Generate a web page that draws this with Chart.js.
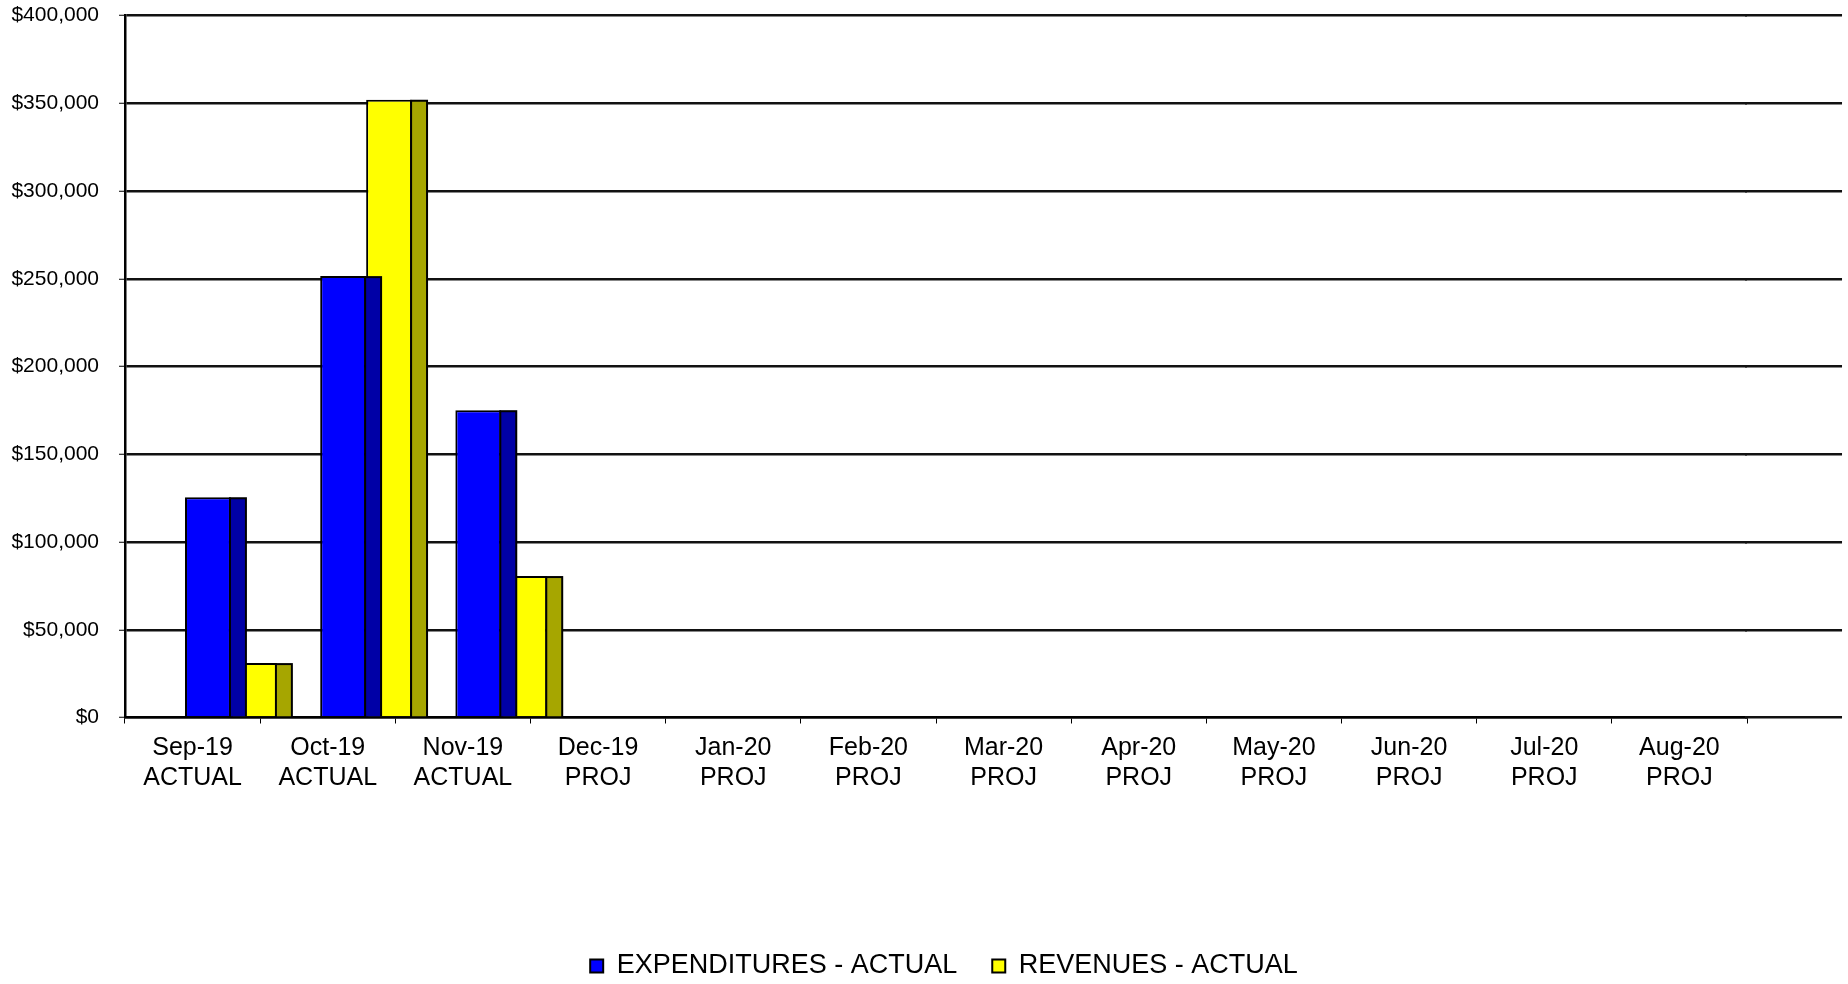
<!DOCTYPE html>
<html>
<head>
<meta charset="utf-8">
<script src="https://cdn.jsdelivr.net/npm/chart.js@4.4.1/dist/chart.umd.min.js"></script>
<style>
  html, body { margin: 0; padding: 0; background: #ffffff; overflow: hidden; }
  #wrap { width: 1848px; height: 984px; position: relative; }
  canvas { display: block; }
</style>
</head>
<body>
<div id="wrap"><canvas id="c" width="1848" height="984"></canvas></div>
<script>
// ---- data ----
const months = ['Sep-19','Oct-19','Nov-19','Dec-19','Jan-20','Feb-20','Mar-20','Apr-20','May-20','Jun-20','Jul-20','Aug-20'];
const periodTypes = ['ACTUAL','ACTUAL','ACTUAL','PROJ','PROJ','PROJ','PROJ','PROJ','PROJ','PROJ','PROJ','PROJ'];
const expendituresActual = [125500, 251500, 175100, null, null, null, null, null, null, null, null, null];
const revenuesActual = [31000, 352000, 80600, null, null, null, null, null, null, null, null, null];
const seriesNames = ['EXPENDITURES - ACTUAL', 'REVENUES - ACTUAL'];
const yMin = 0, yMax = 400000, yStep = 50000;

const categoryLabels = months.map((m, i) => [m, periodTypes[i]]);

Chart.defaults.font.family = "'Liberation Sans', Arial, Helvetica, sans-serif";
Chart.defaults.color = '#000000';

// 3D-look plugin: shift bars to the right and draw darker side faces; extend floor/gridlines
const pseudo3D = {
  id: 'pseudo3D',
  afterLayout(chart, args, opts) {
    if (chart.legend) {
      chart.legend.left += opts.legendNudge;
      chart.legend.right += opts.legendNudge;
    }
  },
  afterDatasetsUpdate(chart, args, opts) {
    const xs = chart.scales.x;
    const catW = xs.width / chart.data.labels.length;
    chart.data.datasets.forEach((ds, i) => {
      const meta = chart.getDatasetMeta(i);
      meta.data.forEach(el => { el.x += opts.shift * catW; });
    });
  },
  beforeDatasetsDraw(chart, args, opts) {
    const xs = chart.scales.x, ys = chart.scales.y;
    const catW = xs.width / chart.data.labels.length;
    const ext = opts.extend * catW;
    const ctx = chart.ctx;
    const w = opts.gridWidth;
    ctx.save();
    ctx.strokeStyle = opts.gridColor;
    ctx.lineWidth = w;
    ys.ticks.forEach(t => {
      const raw = ys.getPixelForValue(t.value);
      const y = Math.round(raw - w / 2) + w / 2;
      ctx.beginPath();
      ctx.moveTo(chart.chartArea.right - 2, y);
      ctx.lineTo(chart.chartArea.right + ext, y);
      ctx.stroke();
    });
    ctx.restore();
  },
  afterDatasetsDraw(chart, args, opts) {
    const xs = chart.scales.x;
    const catW = xs.width / chart.data.labels.length;
    const sw = opts.side * catW;
    const ctx = chart.ctx;
    ctx.save();
    chart.data.datasets.forEach((ds, i) => {
      const meta = chart.getDatasetMeta(i);
      meta.data.forEach((el, j) => {
        if (ds.data[j] === null || ds.data[j] === undefined) return;
        const right = el.x + el.width / 2;
        const top = Math.min(el.y, el.base), bot = Math.max(el.y, el.base);
        const bw = ds.borderWidth;
        ctx.fillStyle = ds.borderColor;
        ctx.fillRect(right - bw, top, sw + bw, bot - top);
        ctx.fillStyle = ds.sideColor;
        ctx.fillRect(right, top + bw, sw - bw, bot - top - bw);
      });
    });
    ctx.restore();
  }
};

new Chart(document.getElementById('c'), {
  type: 'bar',
  data: {
    labels: categoryLabels,
    datasets: [
      { label: seriesNames[0], data: expendituresActual, backgroundColor: '#0000FF', sideColor: '#0000A6',
        borderColor: '#000000', borderWidth: 2, borderSkipped: 'bottom' },
      { label: seriesNames[1], data: revenuesActual, backgroundColor: '#FFFF00', sideColor: '#A6A600',
        borderColor: '#000000', borderWidth: 2, borderSkipped: 'bottom' }
    ]
  },
  options: {
    responsive: false,
    animation: false,
    events: [],
    devicePixelRatio: 1,
    categoryPercentage: 0.68,
    barPercentage: 1.0,
    layout: { padding: { left: 0, top: 15.5, right: 0, bottom: 0 } },
    plugins: {
      tooltip: { enabled: false },
      pseudo3D: { shift: 0.284, side: 0.118, extend: 0.703, gridColor: '#111111', gridWidth: 2.5, legendNudge: 8 },
      legend: {
        display: true,
        position: 'bottom',
        fullSize: false,
        maxHeight: 66.5,
        labels: {
          font: { size: 27 },
          color: '#000000',
          boxWidth: 13,
          boxHeight: 13,
          padding: 35
        }
      }
    },
    scales: {
      x: {
        type: 'category',
        offset: true,
        grid: { display: true, drawOnChartArea: false, drawTicks: true, offset: true,
                tickLength: 6, tickWidth: 1, tickColor: '#000000' },
        border: { display: true, color: '#000000', width: 2.5 },
        ticks: { font: { size: 25, lineHeight: 1.2 }, color: '#000000', padding: 10, maxRotation: 0, autoSkip: false },
        afterFit(scale) { scale.height = 200; }
      },
      y: {
        type: 'linear',
        position: 'left',
        min: yMin, max: yMax,
        grid: { display: true, color: '#111111', lineWidth: 2.5, drawTicks: true, tickLength: 6, tickWidth: 1, tickColor: '#000000' },
        border: { display: true, color: '#000000', width: 2.5 },
        ticks: {
          stepSize: yStep,
          font: { size: 21 },
          color: '#000000',
          padding: 20,
          callback: (v) => '$' + Number(v).toLocaleString('en-US')
        },
        afterFit(scale) { scale.width = 125; scale.paddingTop = 12; scale.paddingBottom = 12; }
      },
      yRight: {
        type: 'linear',
        position: 'right',
        display: true,
        grid: { display: false, drawTicks: false },
        border: { display: false },
        ticks: { display: false },
        afterFit(scale) { scale.width = 101; }
      }
    }
  },
  plugins: [pseudo3D]
});
</script>
</body>
</html>
